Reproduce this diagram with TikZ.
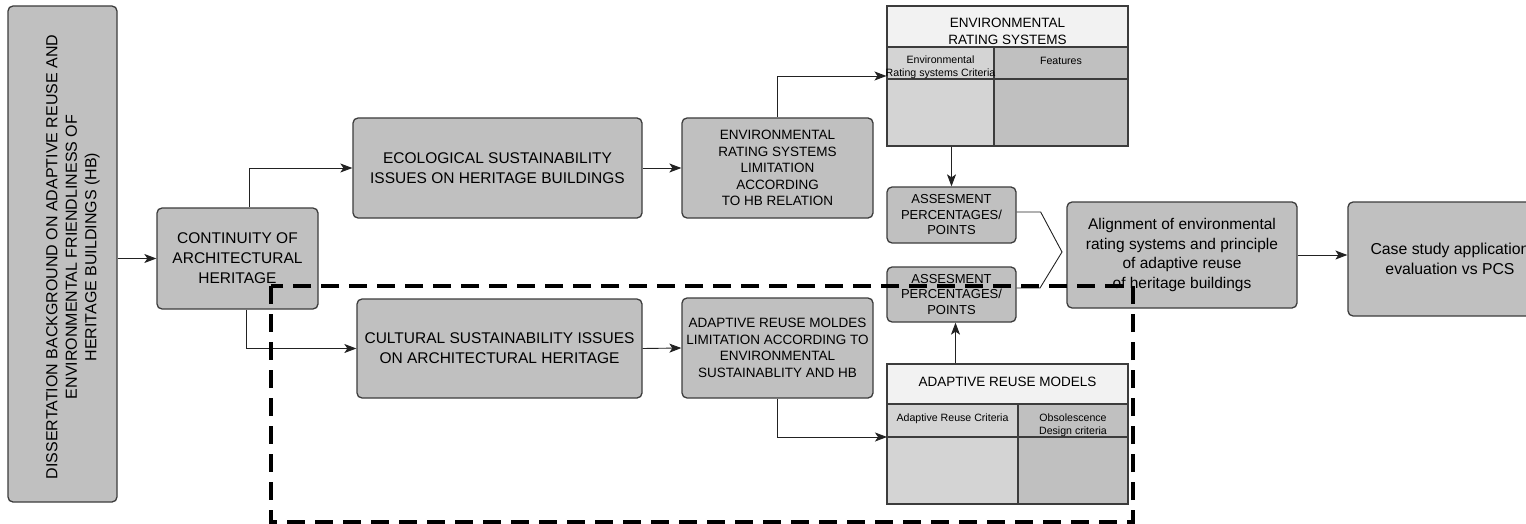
\documentclass[tikz,border=0pt]{standalone}
\usepackage{fontspec}
\setmainfont{Liberation Sans}
\usetikzlibrary{arrows.meta,calc}
\definecolor{boxfill}{HTML}{C0C0C0}
\definecolor{boxline}{HTML}{3C3C3C}
\definecolor{headfill}{HTML}{F2F2F2}
\definecolor{colfill}{HTML}{D4D4D4}
\definecolor{wire}{HTML}{222222}

\begin{document}
\begin{tikzpicture}[x=1pt,y=-1pt,
  box/.style={draw=boxline, line width=1.3pt, fill=boxfill, rounded corners=5pt,
    inner sep=0pt, align=center, text=black},
  frame/.style={draw=boxline, line width=1.1pt, inner sep=0pt},
  rule/.style={draw=boxline, line width=1.1pt},
  arr/.style={draw=wire, line width=0.9pt, -{Stealth[length=12pt,width=9pt,inset=3pt]}},
  link/.style={draw=wire, line width=0.9pt},
  zone/.style={draw=black, line width=4pt, dash pattern=on 18pt off 10pt},
  txt/.style={inner sep=0pt, align=center, text=black},
  big/.style={font=\fontsize{15.5}{20}\selectfont},
  mid/.style={font=\fontsize{13.5}{16.6}\selectfont},
  sml/.style={font=\fontsize{13}{15.5}\selectfont},
  wide/.style={font=\fontsize{15.5}{19.5}\selectfont},
  tiny/.style={font=\fontsize{10.6}{13}\selectfont}
]
\useasboundingbox (0,0) rectangle (1526,524);

% left vertical box
\node[box, minimum width=109, minimum height=496] (diss) at (62.5,254) {};
\node[txt, rotate=90, font=\fontsize{16}{19.5}\selectfont] (dissT) at (73,257)
  {DISSERTATION BACKGROUND ON ADAPTIVE REUSE AND\\
   ENVIRONMENTAL FRIENDLINESS OF\\ HERITAGE BUILDINGS (HB)};

% process boxes
\node[box, big, minimum width=161, minimum height=101] (cont) at (237.5,258.5)
  {CONTINUITY OF\\ARCHITECTURAL\\HERITAGE};
\node[box, big, minimum width=289, minimum height=100] (eco) at (497.5,168)
  {ECOLOGICAL SUSTAINABILITY\\ISSUES ON HERITAGE BUILDINGS};
\node[box, big, minimum width=285, minimum height=99] (cult) at (499.5,348.5)
  {CULTURAL SUSTAINABILITY ISSUES\\ON ARCHITECTURAL HERITAGE};
\node[box, mid, minimum width=191, minimum height=100] (lim1) at (777.5,168)
  {ENVIRONMENTAL\\RATING SYSTEMS\\LIMITATION\\ACCORDING\\TO HB RELATION};
\node[box, mid, minimum width=191, minimum height=100] (lim2) at (777.5,348)
  {ADAPTIVE REUSE MOLDES\\LIMITATION ACCORDING TO\\ENVIRONMENTAL\\SUSTAINABLITY AND HB};
\node[box, sml, minimum width=129, minimum height=56] (ass1) at (951.5,215)
  {ASSESMENT\\PERCENTAGES/\\POINTS};
\node[box, sml, minimum width=129, minimum height=55] (ass2) at (951.5,294.5)
  {ASSESMENT\\PERCENTAGES/\\POINTS};
\node[box, wide, minimum width=230, minimum height=106] (align) at (1182,255)
  {Alignment of environmental\\rating systems and principle\\of adaptive reuse\\of heritage buildings};
\node[box, font=\fontsize{15.8}{19.5}\selectfont, minimum width=204, minimum height=114] (case) at (1450,259)
  {Case study application\\evaluation vs PCS};

% environmental rating systems table
\fill[headfill] (887,6) rectangle (1128,47);
\fill[colfill] (887,47) rectangle (994,146);
\fill[boxfill] (994,47) rectangle (1128,146);
\node[frame, minimum width=241, minimum height=140] (ers) at (1007.5,76) {};
\draw[rule] (887,47) -- (1128,47);
\draw[rule] (994,47) -- (994,146);
\draw[rule] (887,79) -- (1128,79);
\node[txt, font=\fontsize{13.5}{17}\selectfont] (ersT) at (1007.5,31.5)
  {ENVIRONMENTAL\\RATING SYSTEMS};
\node[txt, tiny] (ersA) at (940.5,67.5) {Environmental\\Rating systems Criteria};
\node[txt, tiny] (ersB) at (1061,61) {Features};

% adaptive reuse models table
\fill[headfill] (887,364) rectangle (1128,404);
\fill[colfill] (887,404) rectangle (1018,504);
\fill[boxfill] (1018,404) rectangle (1128,504);
\node[frame, minimum width=241, minimum height=140] (arm) at (1007.5,434) {};
\draw[rule] (887,404) -- (1128,404);
\draw[rule] (1018,404) -- (1018,504);
\draw[rule] (887,437) -- (1128,437);
\coordinate (armrow) at (887,437);
\node[txt, font=\fontsize{13.5}{17}\selectfont] (armT) at (1007.5,382)
  {ADAPTIVE REUSE MODELS};
\node[txt, tiny] (armA) at (952.5,419) {Adaptive Reuse Criteria};
\node[txt, tiny] (armB) at (1073,425.5) {Obsolescence\\Design criteria};

% connectors
\draw[arr] (diss.east |- cont.west) -- (cont.west);
\draw[arr] ([xshift=11.5pt]cont.north) |- (eco.west);
\draw[arr] ([xshift=8.5pt]cont.south) |- (cult.west);
\draw[arr] (eco.east) -- (lim1.west);
\draw[arr] (cult.east) -- (lim2.west);
\draw[arr] (lim1.north) |- (ers.west);
\draw[arr] (ass1.north |- ers.south) -- (ass1.north);
\draw[arr] ([xshift=4pt]ass2.south |- arm.north) -- ([xshift=4pt]ass2.south);
\draw[arr] (lim2.south) |- (armrow);
\coordinate (meet) at (1062,252);
\draw[link] ([yshift=3pt]ass1.east) -- ++(24,0) -- (meet)
  -- (1040,288) -- ([yshift=6.5pt]ass2.east);
\draw[arr] (align.east) -- (align.east -| case.west);

% dashed zone
\draw[zone] (271,286) rectangle (1133,522);
\end{tikzpicture}
\end{document}
